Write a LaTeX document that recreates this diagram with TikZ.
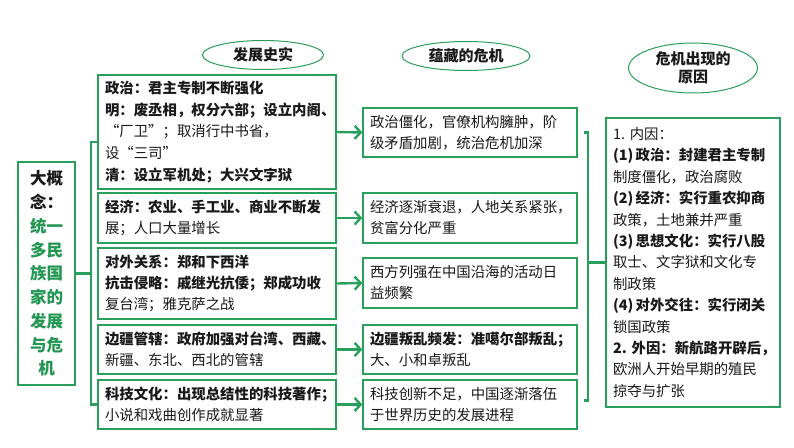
\documentclass[tikz,border=0pt]{standalone}
\usepackage{fontspec}
\setmainfont{Noto Sans CJK SC}
\usetikzlibrary{shapes.geometric,arrows.meta}
\definecolor{gline}{RGB}{40,160,92}
\definecolor{gtext}{RGB}{34,150,82}
\definecolor{ink}{RGB}{25,25,25}
\tikzset{
  box/.style={draw=gline, line width=1.4pt, align=left, inner xsep=7pt, inner ysep=0pt,
    anchor=center, font=\fontsize{14.4}{21}\selectfont, text=ink},
  lbox/.style={box, text width=224pt, minimum height=#1},
  mbox/.style={box, text width=200pt, minimum height=#1},
  oval/.style={ellipse, draw=gline, line width=1pt, inner sep=0pt, align=center,
    font=\bfseries\fontsize{15}{18}\selectfont, text=ink},
  conn/.style={draw=gline, line width=2.4pt},
  arr/.style={conn, -{Straight Barb[length=6pt,width=13pt]}},
}
\begin{document}
\begin{tikzpicture}[x=1pt,y=-1pt]
\fill[white] (0,0) rectangle (794,447);
\useasboundingbox (0,0) rectangle (794,447);

% headings
\node[oval, minimum width=121pt, minimum height=29pt] (E1) at (263,55) {发展史实};
\node[oval, minimum width=128pt, minimum height=29pt] (E2) at (466,56) {蕴藏的危机};
\node[oval, minimum width=129pt, minimum height=50pt] (E3) at (693,68) {危机出现的\\原因};

% big concept
\node[draw=gline, line width=1.4pt, minimum width=57pt, minimum height=223pt, inner sep=0pt,
  align=center, text=ink, font=\bfseries\fontsize{16.5}{23.75}\selectfont] (big) at (46.5,273.5)
  {大概\\念：\\\textcolor{gtext}{统一}\\\textcolor{gtext}{多民}\\\textcolor{gtext}{族国}\\\textcolor{gtext}{家的}\\\textcolor{gtext}{发展}\\\textcolor{gtext}{与危}\\\textcolor{gtext}{机}};

% left column
\node[lbox=114pt, font=\fontsize{14.4}{21.7}\selectfont] (L1) at (217,132) {\textbf{政治：君主专制不断强化}\\\textbf{明：废丞相，权分六部；设立内阁、}\\“厂卫”；取消行中书省，\\设“三司”\\\textbf{清：设立军机处；大兴文字狱}};
\node[lbox=50pt] (L2) at (217,218) {\textbf{经济：农业、手工业、商业不断发}\\展；人口大量增长};
\node[lbox=71pt] (L3) at (217,283.5) {\textbf{对外关系：郑和下西洋}\\\textbf{抗击侵略：戚继光抗倭；郑成功收}\\复台湾；雅克萨之战};
\node[lbox=49pt] (L4) at (217,349.5) {\textbf{边疆管辖：政府加强对台湾、西藏、}\\新疆、东北、西北的管辖};
\node[lbox=49pt] (L5) at (217,404.5) {\textbf{科技文化：出现总结性的科技著作；}\\小说和戏曲创作成就显著};

% middle column
\node[mbox=49pt] (M1) at (470,132.5) {政治僵化，官僚机构臃肿，阶\\级矛盾加剧，统治危机加深};
\node[mbox=50pt] (M2) at (470,218) {经济逐渐衰退，人地关系紧张，\\贫富分化严重};
\node[mbox=50pt] (M3) at (470,283) {西方列强在中国沿海的活动日\\益频繁};
\node[mbox=49pt] (M4) at (470,349.5) {\textbf{边疆叛乱频发：准噶尔部叛乱；}\\大、小和卓叛乱};
\node[mbox=49pt] (M5) at (470,404.5) {科技创新不足，中国逐渐落伍\\于世界历史的发展进程};

% right column
\node[box, text width=160pt, minimum height=289pt, font=\fontsize{14.4}{21.4}\selectfont] (R) at (693,262.5)
  {1.~内因：\\\textbf{(1)\,政治：封建君主专制}\\制度僵化，政治腐败\\\textbf{(2)\,经济：实行重农抑商}\\政策，土地兼并严重\\\textbf{(3)\,思想文化：实行八股}\\取士、文字狱和文化专\\制政策\\\textbf{(4)\,对外交往：实行闭关}\\锁国政策\\\textbf{2.~外因：新航路开辟后，}\\欧洲人开始早期的殖民\\掠夺与扩张};

% left bracket
\coordinate (lbar) at (91,0);
\coordinate (lt) at ([yshift=-10pt]L1.west);
\draw[conn] (big.east) -- (big.east -| lbar);
\draw[conn] (lt) -- (lt -| lbar) -- (L5.west -| lbar) -- (L5.west);

% arrows
\draw[arr] (L1.east) -- (M1.west);
\draw[arr] (L2.east) -- (M2.west);
\draw[arr] (L3.east) -- (M3.west);
\draw[arr] (L4.east) -- (M4.west);
\draw[arr] (L5.east) -- (M5.west);

% right bracket
\coordinate (rbar) at (588,0);
\coordinate (rb1) at ([xshift=6pt]M1.east);
\coordinate (rb2) at ([xshift=6pt,yshift=4pt]M5.east);
\draw[conn] (rb1) -- (rb1 -| rbar) -- (rb2 -| rbar) -- (rb2);
\draw[conn] (R.west) -- (R.west -| rbar);
\end{tikzpicture}
\end{document}
